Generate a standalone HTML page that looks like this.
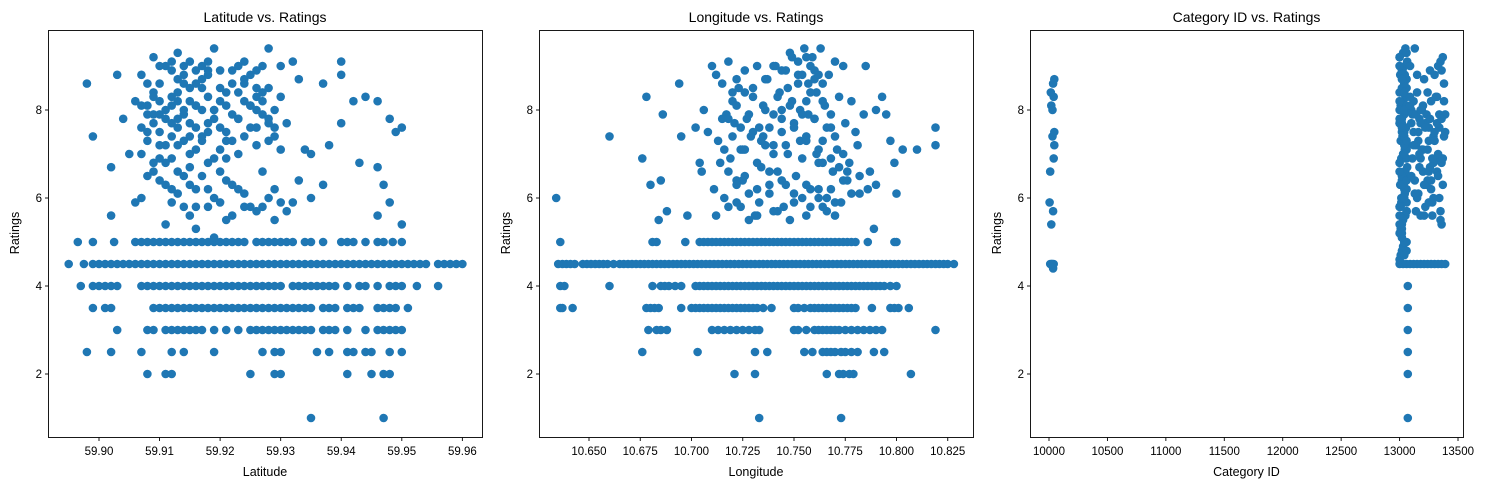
<!DOCTYPE html>
<html><head><meta charset="utf-8">
<style>
html,body{margin:0;padding:0;background:#fff;}
svg{display:block;font-family:"Liberation Sans","DejaVu Sans",sans-serif;}
</style></head>
<body>
<svg id="chart" width="1488" height="490" viewBox="0 0 1488 490" xmlns="http://www.w3.org/2000/svg"></svg>
<script>
// ---------- Panel 1 data: Latitude ----------
const p1Ticks = [59.90,59.91,59.92,59.93,59.94,59.95,59.96];
const p1TickLabels = ["59.90","59.91","59.92","59.93","59.94","59.95","59.96"];
const p1Band45 = [59.895,59.8975,59.899,59.900,59.901,59.902,59.903,59.904,59.905,59.906,59.907,59.908,59.909,59.910,59.911,59.912,59.913,59.914,59.915,59.916,59.917,59.918,59.919,59.920,59.921,59.922,59.923,59.924,59.925,59.926,59.927,59.928,59.929,59.930,59.931,59.932,59.933,59.934,59.935,59.936,59.937,59.938,59.939,59.940,59.941,59.942,59.943,59.944,59.945,59.946,59.947,59.948,59.949,59.950,59.951,59.952,59.953,59.954,59.956,59.957,59.958,59.959,59.960];
const p1Band50 = [59.8965,59.899,59.9025,59.906,59.907,59.908,59.909,59.910,59.911,59.912,59.913,59.914,59.915,59.916,59.917,59.918,59.919,59.920,59.921,59.922,59.923,59.924,59.926,59.927,59.928,59.929,59.930,59.931,59.932,59.934,59.935,59.937,59.940,59.941,59.942,59.944,59.946,59.947,59.9485,59.950];
const p1Band40 = [59.897,59.899,59.900,59.901,59.902,59.903,59.907,59.908,59.909,59.910,59.911,59.912,59.913,59.914,59.915,59.916,59.917,59.918,59.919,59.920,59.921,59.922,59.923,59.924,59.925,59.926,59.927,59.928,59.929,59.930,59.932,59.933,59.934,59.935,59.936,59.937,59.938,59.939,59.941,59.943,59.944,59.946,59.948,59.949,59.950,59.9525,59.956];
const p1Band35 = [59.899,59.901,59.902,59.909,59.910,59.911,59.912,59.913,59.914,59.915,59.916,59.917,59.918,59.919,59.920,59.921,59.922,59.923,59.924,59.925,59.926,59.927,59.928,59.929,59.930,59.931,59.932,59.933,59.934,59.935,59.937,59.938,59.939,59.941,59.942,59.943,59.946,59.947,59.948,59.949,59.951];
const p1Band30 = [59.903,59.908,59.909,59.911,59.912,59.913,59.914,59.915,59.916,59.917,59.919,59.921,59.923,59.925,59.926,59.927,59.928,59.929,59.930,59.931,59.932,59.933,59.934,59.935,59.937,59.938,59.939,59.941,59.944,59.946,59.947,59.948,59.949,59.950];
const p1Band25 = [59.898,59.902,59.907,59.912,59.914,59.919,59.927,59.929,59.930,59.936,59.938,59.941,59.942,59.944,59.945,59.948,59.950];
const p1Band20 = [59.908,59.911,59.912,59.925,59.929,59.930,59.941,59.945,59.947,59.948];
const p1Band10 = [59.935,59.947];
const p1CloudX = [59.898,59.899,59.903,59.902,59.904,59.902,59.935,59.937,59.937,59.940,59.940,59.940,59.942,59.943,59.944,59.946,59.946,59.947,59.948,59.949,59.950,59.948,59.950,59.946,59.938,59.935,59.933,59.932,
59.906,59.907,59.908,59.908,59.909,59.909,59.910,59.910,59.910,59.911,59.911,59.912,59.912,59.912,59.913,59.913,59.913,59.914,59.914,59.914,59.915,59.915,59.915,59.915,59.916,59.916,59.916,59.917,59.917,59.917,59.918,59.918,59.918,59.918,59.919,59.919,59.919,59.920,59.920,59.920,59.921,59.921,59.921,59.922,59.922,59.922,59.923,59.923,59.924,59.924,59.924,59.925,59.925,59.925,59.926,59.926,59.927,59.927,59.927,59.928,59.928,59.928,59.929,59.929,59.930,59.930,59.930,59.931,59.931,59.907,59.909,59.911,59.913,59.916,59.919,59.922,59.926,59.929,59.905,59.906,59.908,59.912,59.918,59.923,59.926,59.932,59.933,59.934,
59.907,59.909,59.911,59.913,59.914,59.916,59.918,59.920,59.921,59.923,59.925,59.927,59.929,59.910,59.912,59.915,59.917,59.919,59.921,59.924,59.926,59.928,
59.907,59.908,59.909,59.910,59.911,59.912,59.913,59.914,59.915,59.916,59.917,59.908,59.909,59.910,59.911,59.912,59.913,59.914,59.915,59.916,59.917,59.918,59.919,59.920,59.921,59.922,59.923,59.924,59.925,59.926,59.927,59.928,59.929,59.907,59.909,59.911,59.913,59.915,59.917,59.919,59.921,59.923,59.908,59.910,59.912,59.914,59.916,59.918,59.920,59.924,59.927,59.928,59.930,59.910,59.912,59.914,59.916,59.918,59.913,59.915,59.920,59.922,59.924,59.926];
const p1CloudY = [8.6,7.4,8.8,6.7,7.8,5.6,7.0,6.3,8.6,9.1,8.8,7.7,8.2,6.8,8.3,8.2,6.7,6.3,7.8,7.5,7.6,5.9,5.4,5.6,7.2,6.0,8.7,5.9,
8.2,7.6,8.1,7.3,9.2,7.9,8.6,7.5,6.4,8.0,9.0,7.7,6.9,5.9,9.3,8.4,7.2,8.8,7.9,6.5,9.1,8.2,7.0,5.6,8.6,7.6,6.2,9.0,8.0,7.3,8.9,8.3,6.8,5.8,9.4,7.8,6.0,8.5,7.1,6.6,8.1,7.5,5.5,8.9,7.9,6.3,8.4,7.0,9.1,8.2,6.1,8.8,7.6,5.8,8.3,7.2,9.0,7.9,6.6,9.4,8.5,7.3,8.0,6.2,9.0,8.3,7.1,7.7,5.7,6.0,6.6,5.4,6.1,5.3,5.1,5.6,5.7,5.5,7.0,5.9,8.6,8.9,9.1,9.0,8.9,9.1,6.4,7.1,
8.8,8.4,7.2,7.8,8.6,8.1,7.7,8.2,6.9,7.8,8.1,8.4,7.6,7.9,8.3,7.4,8.7,8.0,7.3,8.6,8.0,7.7,
8.1,7.9,7.7,8.2,7.8,8.1,7.6,8.0,7.7,8.1,7.4,7.5,8.3,7.2,6.8,7.4,8.2,7.3,6.7,7.1,8.5,7.5,8.0,7.6,8.4,7.3,7.8,7.4,8.1,7.6,8.2,7.8,7.4,7.0,6.8,6.3,6.6,6.3,6.5,6.9,6.4,6.2,6.5,6.9,6.2,5.8,5.8,6.2,5.9,5.8,5.8,6.0,5.9,9.0,9.1,9.0,8.9,8.8,8.7,8.5,8.9,8.6,8.7,8.5];

// ---------- Panel 2 data: Longitude ----------
const p2Ticks = [10.650,10.675,10.700,10.725,10.750,10.775,10.800,10.825];
const p2TickLabels = ["10.650","10.675","10.700","10.725","10.750","10.775","10.800","10.825"];
const p2Band45 = [10.635,10.637,10.639,10.641,10.643,10.647,10.649,10.651,10.653,10.655,10.657,10.659,10.662,10.665,10.667,10.669,10.671,10.673,10.675,10.677,10.679,10.681,10.683,10.685,10.687,10.689,10.691,10.693,10.695,10.697,10.699,10.701,10.703,10.705,10.707,10.709,10.711,10.713,10.715,10.717,10.719,10.721,10.723,10.725,10.727,10.729,10.731,10.733,10.735,10.737,10.739,10.741,10.743,10.745,10.747,10.749,10.751,10.753,10.755,10.757,10.759,10.761,10.763,10.765,10.767,10.769,10.771,10.773,10.775,10.777,10.779,10.781,10.783,10.785,10.787,10.789,10.791,10.793,10.795,10.797,10.799,10.801,10.803,10.805,10.807,10.809,10.811,10.813,10.815,10.817,10.819,10.821,10.823,10.825,10.828];
const p2Band50 = [10.636,10.681,10.683,10.697,10.704,10.706,10.708,10.710,10.712,10.714,10.716,10.718,10.720,10.722,10.724,10.726,10.728,10.730,10.732,10.734,10.736,10.738,10.740,10.742,10.744,10.746,10.748,10.750,10.752,10.754,10.756,10.758,10.760,10.762,10.764,10.766,10.768,10.770,10.772,10.774,10.776,10.778,10.780,10.786,10.799,10.800];
const p2Band40 = [10.636,10.638,10.660,10.681,10.685,10.687,10.689,10.692,10.695,10.702,10.704,10.706,10.708,10.710,10.712,10.714,10.716,10.718,10.720,10.722,10.724,10.726,10.728,10.730,10.732,10.734,10.736,10.738,10.740,10.742,10.744,10.746,10.748,10.750,10.752,10.754,10.756,10.758,10.760,10.762,10.764,10.766,10.768,10.770,10.772,10.774,10.776,10.778,10.780,10.782,10.784,10.786,10.788,10.790,10.792,10.794,10.797,10.800];
const p2Band35 = [10.636,10.637,10.642,10.678,10.680,10.682,10.684,10.695,10.700,10.702,10.704,10.706,10.708,10.710,10.712,10.714,10.716,10.718,10.720,10.722,10.724,10.726,10.728,10.730,10.732,10.735,10.739,10.750,10.752,10.755,10.758,10.760,10.762,10.764,10.766,10.768,10.770,10.772,10.774,10.776,10.778,10.780,10.788,10.797,10.799,10.801,10.806];
const p2Band30 = [10.679,10.683,10.685,10.688,10.710,10.713,10.716,10.719,10.722,10.725,10.728,10.731,10.733,10.750,10.752,10.756,10.760,10.762,10.764,10.766,10.768,10.770,10.772,10.775,10.778,10.781,10.784,10.787,10.790,10.793,10.819];
const p2Band25 = [10.676,10.703,10.731,10.737,10.755,10.759,10.764,10.766,10.768,10.770,10.773,10.775,10.778,10.781,10.789,10.794];
const p2Band20 = [10.721,10.731,10.766,10.772,10.774,10.777,10.779,10.807];
const p2Band10 = [10.733,10.773];
const p2CloudX = [10.634,10.660,10.676,10.678,10.680,10.684,10.686,10.685,10.688,10.694,10.695,10.698,10.790,10.790,10.793,10.795,10.797,10.799,10.800,10.803,10.810,10.819,10.819,10.785,10.787,10.789,
10.702,10.704,10.706,10.708,10.710,10.711,10.712,10.713,10.715,10.716,10.717,10.718,10.719,10.720,10.721,10.722,10.723,10.724,10.725,10.726,10.727,10.728,10.729,10.730,10.731,10.732,10.733,10.734,10.735,10.736,10.737,10.738,10.740,10.741,10.742,10.743,10.744,10.745,10.746,10.747,10.748,10.749,10.750,10.751,10.752,10.753,10.754,10.755,10.756,10.757,10.758,10.759,10.760,10.761,10.762,10.763,10.764,10.765,10.766,10.767,10.768,10.769,10.770,10.771,10.772,10.773,10.774,10.775,10.776,10.778,10.780,10.782,10.784,
10.712,10.718,10.722,10.728,10.733,10.738,10.742,10.746,10.750,10.754,10.758,10.762,10.766,10.770,10.747,10.752,10.756,10.760,10.744,10.757,10.761,10.753,10.749,10.764,10.725,10.735,10.705,10.715,10.740,10.768,10.777,10.781,
10.718,10.720,10.722,10.724,10.726,10.728,10.730,10.732,10.734,10.736,10.738,10.740,10.742,10.744,10.746,10.748,10.750,10.752,10.754,10.756,10.758,10.760,10.762,10.764,10.766,10.768,10.770,10.772,10.774,10.776,10.758,10.760,10.762,10.756,10.754,10.764,10.744,10.740,10.736,10.730,10.726,10.722,10.720,10.716,10.714,10.718,10.722,10.726,10.732,10.738,10.744,10.750,10.756,10.762,10.768,10.774,10.778,10.782,10.786,10.724,10.732,10.740,10.748,10.756,10.764,10.770];
const p2CloudY = [6.0,7.4,6.9,8.3,6.3,5.5,7.9,6.4,5.7,8.6,7.4,5.6,8.0,6.3,8.3,7.9,7.3,6.8,6.1,7.1,7.1,7.6,7.2,9.0,6.6,5.3,
7.6,6.8,8.0,7.5,9.0,6.2,8.8,7.3,8.6,6.0,7.9,9.1,6.9,8.2,7.7,5.9,8.5,7.1,6.4,8.9,7.8,6.1,7.4,8.3,5.6,9.0,7.6,6.7,8.1,7.2,8.7,6.3,7.9,9.0,6.6,8.4,7.5,5.8,8.9,7.0,9.3,8.2,7.7,6.5,9.1,8.0,6.9,9.4,7.4,8.6,6.2,9.2,7.8,8.4,6.8,9.4,7.3,8.1,6.0,8.8,7.6,6.6,9.1,7.1,8.3,5.9,9.0,7.7,6.4,8.2,7.5,6.1,7.9,
5.6,5.8,6.4,5.5,5.9,6.1,5.7,6.3,5.9,6.0,5.8,6.2,5.7,5.9,8.5,8.8,8.2,8.7,8.0,7.9,7.0,7.3,9.2,6.8,7.1,7.4,6.6,7.8,7.2,7.9,6.8,7.2,
7.8,7.4,8.1,7.6,7.1,7.9,7.5,6.8,7.3,8.0,7.6,7.0,8.3,7.8,7.2,8.1,7.6,8.6,7.9,7.3,8.4,7.8,7.1,8.2,7.6,6.9,7.4,6.7,7.0,6.6,9.0,8.9,8.8,9.2,8.8,8.6,8.9,9.0,8.7,8.5,8.4,8.7,8.4,7.1,6.8,6.6,6.3,6.5,6.2,6.6,6.4,6.1,6.3,6.0,6.2,6.4,6.1,6.5,6.2,5.8,5.6,5.7,5.5,5.6,5.8,5.6];

// ---------- Panel 3 data: Category ID ----------
const p3Ticks = [10000,10500,11000,11500,12000,12500,13000,13500];
const p3TickLabels = ["10000","10500","11000","11500","12000","12500","13000","13500"];
const p3LeftX = [10010,10020,10030,10040,10035,10025,10005,10020,10035,10010,10040,10045,10030,10045,10020,10030,10040,10015,10035,10045];
const p3LeftY = [4.5,4.5,4.5,4.5,4.4,4.5,5.9,5.4,5.7,6.6,6.9,7.2,7.4,7.5,8.1,8.0,8.3,8.4,8.6,8.7];
const p3ColLowY = [1.0,2.0,2.5,3.0,3.5,4.0];
const p3ColX = [13000,13010,13020,13030,13040,13050,13060,13000,13010,13020,13030,13040,13050,13060,13000,13015,13030,13045,13060,13005,13020,13035,13050,13065,13000,13015,13030,13045,13060,13010,13025,13040,13055,13000,13020,13040,13060,13010,13030,13050,13000,13020,13040,13060,13005,13025,13045,13065,13000,13030,13050,13015,13035,13055,13000,13020,13045,13010,13030,13060,13000,13040,
13000,13020,13040,13060,13000,13020,13040,13060,13000,13020,13040,13060,13000,13020,13040,13060,13000,13020,13040,13060,13000,13020,13040,13060,13000,13020,13040,13060,13000,13020,13040,13060,13000,13020,13040,13060,13000,13020,13040,13060];
const p3ColY = [4.6,4.7,4.8,4.9,5.0,5.0,5.0,5.2,5.3,5.4,5.5,5.6,5.6,5.7,5.8,5.9,6.0,6.1,6.2,6.3,6.4,6.5,6.6,6.7,6.8,6.9,7.0,7.1,7.2,7.3,7.4,7.5,7.6,7.7,7.8,7.9,8.0,8.1,8.2,8.3,8.4,8.5,8.6,8.7,8.8,8.9,9.0,9.1,9.2,9.3,9.4,6.0,6.3,6.9,7.7,8.1,8.8,5.8,7.4,8.5,9.0,6.6,
9.2,8.9,8.6,8.3,8.0,7.7,7.4,7.1,6.8,6.5,6.2,5.9,5.6,5.3,5.0,4.8,9.0,8.7,8.4,8.1,7.8,7.5,7.2,6.9,6.6,6.3,6.0,5.7,5.4,5.1,4.7,9.3,8.2,7.6,7.0,6.4,5.8,5.2,8.0,7.3];
const p3Band45 = [13000,13030,13060,13090,13120,13150,13180,13210,13240,13270,13300,13330,13360,13390];
const p3RightX = [13090,13100,13110,13120,13130,13140,13150,13160,13170,13180,13190,13200,13210,13220,13230,13240,13250,13260,13270,13280,13290,13300,13310,13320,13330,13340,13350,13360,13370,13380,13390,13100,13120,13140,13160,13180,13200,13220,13240,13260,13280,13300,13320,13340,13360,13380,13110,13150,13190,13230,13270,13310,13350,13390,13130,13170,13210,13250,13290,13330,13370,13150,13250,13350,13090,13180,13270,13360,
13100,13140,13180,13220,13260,13300,13340,13380,13120,13160,13200,13240,13280,13320,13360,13090,13130,13170,13210,13250,13290,13330,13370];
const p3RightY = [9.0,8.0,6.9,7.5,9.4,7.2,8.4,6.1,7.8,5.6,8.0,7.1,8.7,5.8,6.3,8.4,7.6,6.7,8.2,5.6,7.4,8.8,6.9,8.3,7.0,6.0,9.1,6.8,9.2,8.6,7.9,6.5,8.2,5.7,7.3,6.9,8.1,7.7,6.4,8.9,5.9,7.5,6.6,7.9,5.4,8.2,7.9,6.0,7.1,7.9,6.2,8.3,5.7,7.5,6.1,7.0,5.6,7.3,6.8,9.0,6.3,8.8,5.9,5.5,8.1,7.7,6.4,8.9,
7.7,7.9,8.0,7.6,7.8,7.3,7.6,7.4,7.2,7.5,6.6,7.1,6.9,7.7,7.8,8.3,6.4,6.7,6.3,6.6,6.0,6.5,6.9];

const Y_TICKS = [2,4,6,8];
const C = "#1f77b4";
const NS = "http://www.w3.org/2000/svg";
const svg = document.getElementById("chart");
const yS = r => 374 - (r - 2) * 44;
function mk(tag, attrs, parent){ const e=document.createElementNS(NS,tag); for(const k in attrs) e.setAttribute(k,attrs[k]); (parent||svg).appendChild(e); return e; }

const panels = [
  {key:"latitude", l:48, r:482, xS:v=>99+(v-59.90)*6056, ticks:p1Ticks, labels:p1TickLabels, title:"Latitude vs. Ratings", xl:"Latitude",
   bands:[[p1Band45,4.5],[p1Band40,4.0],[p1Band50,5.0],[p1Band35,3.5],[p1Band30,3.0],[p1Band25,2.5],[p1Band20,2.0],[p1Band10,1.0]], cx:p1CloudX, cy:p1CloudY},
  {key:"longitude", l:539, r:973, xS:v=>589+(v-10.65)*2050, ticks:p2Ticks, labels:p2TickLabels, title:"Longitude vs. Ratings", xl:"Longitude",
   bands:[[p2Band45,4.5],[p2Band40,4.0],[p2Band50,5.0],[p2Band35,3.5],[p2Band30,3.0],[p2Band25,2.5],[p2Band20,2.0],[p2Band10,1.0]], cx:p2CloudX, cy:p2CloudY},
  {key:"category", l:1030, r:1463, xS:v=>1049+(v-10000)*0.11686, ticks:p3Ticks, labels:p3TickLabels, title:"Category ID vs. Ratings", xl:"Category ID",
   bands:[[p3Band45,4.5]], cx:[].concat(p3LeftX,p3ColX,p3RightX,p3ColLowY.map(()=>13070)), cy:[].concat(p3LeftY,p3ColY,p3RightY,p3ColLowY)}
];

panels.forEach(p=>{
  const g = mk("g",{});
  
  
  const pts = mk("g",{fill:C},g);
  
  
  p.bands.forEach(([xs,r])=>xs.forEach(x=>{
    const c = mk("circle",{cx:p.xS(x).toFixed(1),cy:yS(r).toFixed(1),r:4.3},pts);
    
    
  }));
  p.cx.forEach((x,i)=>{
    const c = mk("circle",{cx:p.xS(x).toFixed(1),cy:yS(p.cy[i]).toFixed(1),r:4.3},pts);
    
    
  });
  const fr = mk("rect",{x:p.l+0.5,y:30.5,width:p.r-p.l,height:407,fill:"none",stroke:"#000","stroke-width":0.9},g);
  
  
  p.ticks.forEach((t,i)=>{
    const x = p.xS(t);
    mk("line",{x1:x,x2:x,y1:437.5,y2:441,stroke:"#000","stroke-width":0.9},g);
    const tx = mk("text",{x:x,y:455,"font-size":11.5,"text-anchor":"middle",fill:"#000"},g);
    tx.textContent = p.labels[i];
    
    
  });
  Y_TICKS.forEach(t=>{
    const y = yS(t);
    mk("line",{x1:p.l+0.5,x2:p.l-3,y1:y,y2:y,stroke:"#000","stroke-width":0.9},g);
    const tx = mk("text",{x:p.l-6,y:y+4,"font-size":11.5,"text-anchor":"end",fill:"#000"},g);
    tx.textContent = String(t);
    
    
  });
  const ti = mk("text",{x:(p.l+p.r)/2,y:22,"font-size":14,"text-anchor":"middle",fill:"#000"},g);
  ti.textContent = p.title;
  
  
  const xl = mk("text",{x:(p.l+p.r)/2,y:476,"font-size":12.5,"text-anchor":"middle",fill:"#000"},g);
  xl.textContent = p.xl;
  
  
  const yx = p.l-29, yy = 233;
  const yl = mk("text",{x:yx,y:yy,"font-size":12.5,"text-anchor":"middle",fill:"#000",transform:`rotate(-90 ${yx} ${yy})`},g);
  yl.textContent = "Ratings";
  
  
});
</script>
</body></html>
